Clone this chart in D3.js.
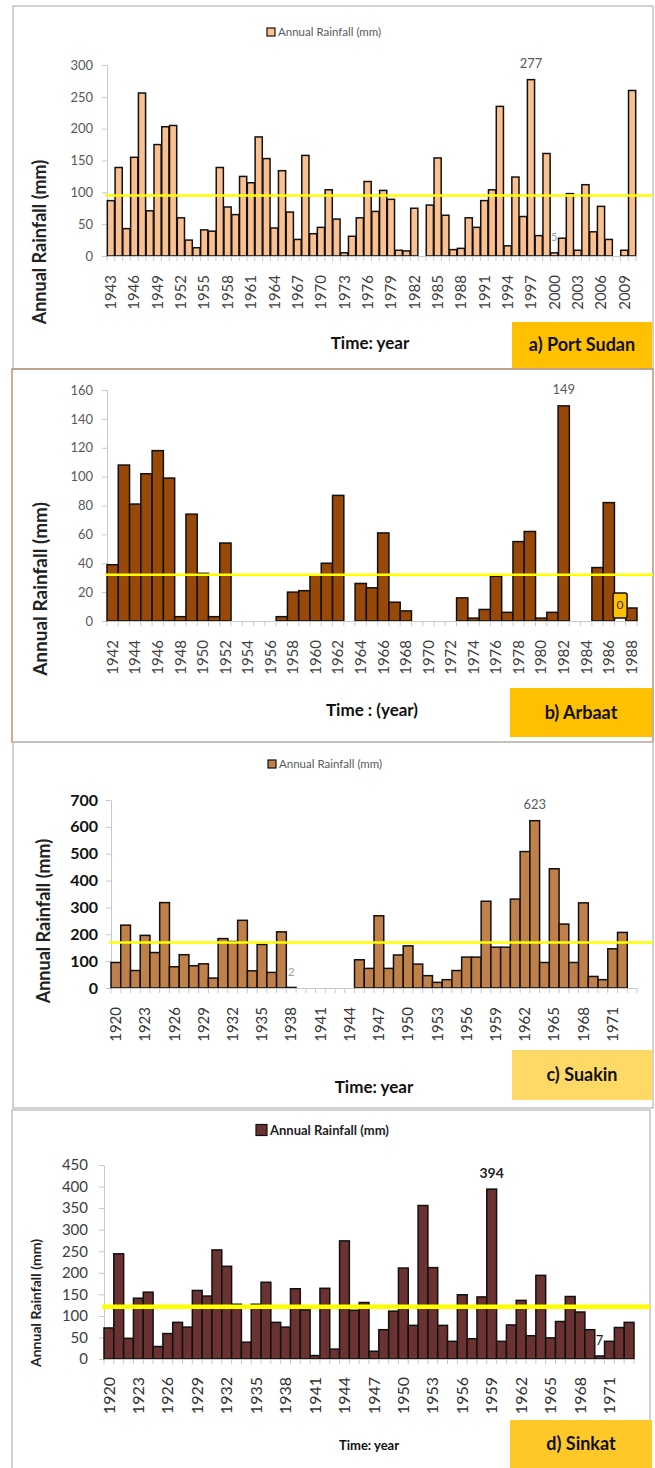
<!DOCTYPE html>
<html>
<head>
<meta charset="utf-8">
<script src="https://cdn.jsdelivr.net/npm/d3@7"></script>
<style>
  body { margin: 0; background: #fff; }
  svg { display: block; font-family: Lato, "Open Sans", sans-serif; }
</style>
</head>
<body>
<div id="root"></div>
<script>
// ---- Data (annual rainfall, mm) ----
const portSudanYears = d3.range(1943, 2011);
const portSudanRain = [
  87, 139, 43, 155, 256, 71, 175, 203, 205, 60,
  25, 13, 41, 39, 139, 77, 65, 125, 115, 187,
  153, 44, 134, 69, 26, 158, 35, 45, 104, 58,
  5, 31, 60, 117, 70, 103, 89, 9, 8, 75,
  0, 80, 154, 64, 10, 12, 60, 45, 87, 104,
  235, 16, 124, 62, 277, 32, 161, 5, 28, 98,
  9, 112, 38, 78, 26, 0, 9, 260
];
const portSudanMean = 95;

const arbaatYears = d3.range(1942, 1989);
const arbaatRain = [
  39, 108, 81, 102, 118, 99, 3, 74, 33, 3,
  54, 0, 0, 0, 0, 3, 20, 21, 32, 40,
  87, 0, 26, 23, 61, 13, 7, 0, 0, 0,
  0, 16, 2, 8, 31, 6, 55, 62, 2, 6,
  149, 0, 0, 37, 82, 0, 9
];
const arbaatMean = 32;

const suakinYears = d3.range(1920, 1974);
const suakinRain = [
  95, 234, 65, 196, 132, 318, 79, 124, 83, 90,
  37, 184, 173, 252, 64, 162, 58, 209, 2, 0,
  0, 0, 0, 0, 0, 105, 73, 269, 73, 123,
  157, 89, 46, 21, 31, 65, 115, 115, 323, 152,
  152, 331, 508, 623, 95, 444, 238, 95, 317, 43,
  31, 146, 207, 0
];
const suakinMean = 169;

const sinkatYears = d3.range(1920, 1974);
const sinkatRain = [
  72, 244, 48, 141, 155, 29, 59, 85, 74, 159,
  146, 253, 215, 127, 39, 127, 178, 85, 74, 163,
  114, 8, 164, 23, 274, 113, 131, 18, 68, 111,
  211, 78, 356, 212, 78, 41, 149, 47, 144, 394,
  41, 79, 136, 54, 194, 49, 87, 145, 109, 68,
  7, 41, 73, 85
];
const sinkatMean = 121;

const legendLabel = "Annual Rainfall (mm)";
const yTitle = "Annual Rainfall (mm)";

// ---- Drawing ----
const width = 655;
const height = 1468;

const svg = d3.select("#root")
  .append("svg")
    .attr("width", width)
    .attr("height", height)
    .attr("viewBox", `0 0 ${width} ${height}`);

function drawPanel(p) {
  const g = svg.append("g");

  // marco del panel
  g.append("rect")
    .attr("x", p.frame[0]).attr("y", p.frame[1])
    .attr("width", p.frame[2]).attr("height", p.frame[3])
    .attr("fill", "none")
    .attr("stroke", p.frameColor)
    .attr("stroke-width", 1.5);

  const x = d3.scaleBand()
    .domain(p.years)
    .range([p.left, p.right])
    .paddingInner(p.pad)
    .paddingOuter(p.pad / 2);

  const y = d3.scaleLinear()
    .domain([0, p.yMax])
    .range([p.bottom, p.top]);

  // eje Y
  const yAxis = g.append("g")
    .attr("transform", `translate(${p.left},0)`)
    .call(d3.axisLeft(y)
      .tickValues(d3.range(0, p.yMax + 1, p.yStep))
      .tickSizeInner(5).tickSizeOuter(0)
      .tickPadding(p.yPad));
  yAxis.select(".domain").attr("stroke", "#c8c8c8");
  yAxis.selectAll(".tick line").attr("stroke", "#c8c8c8");
  yAxis.selectAll("text")
    .attr("fill", p.yTickColor)
    .style("font-size", p.yTickSize + "px")
    .style("font-weight", p.yTickWeight)
    .style("font-family", "Lato, sans-serif");

  // barras
  const data = p.years.map((yr, i) => ({ yr, v: p.values[i] }));
  g.append("g")
    .selectAll("rect")
    .data(data.filter(d => d.v > 0))
    .enter()
    .append("rect")
      .attr("x", d => x(d.yr))
      .attr("y", d => y(d.v))
      .attr("width", x.bandwidth())
      .attr("height", d => y(0) - y(d.v))
      .attr("fill", p.color)
      .attr("stroke", "#111")
      .attr("stroke-width", 1.5);

  // eje X
  const xAxis = g.append("g")
    .attr("transform", `translate(0,${p.bottom})`)
    .call(d3.axisBottom(x)
      .tickValues(p.years.filter((d, i) => i % p.every === 0))
      .tickSize(0)
      .tickPadding(0));
  xAxis.select(".domain").attr("stroke", "#c8c8c8");
  xAxis.selectAll("text")
    .attr("transform", "rotate(-90)")
    .attr("x", -p.xGap)
    .attr("y", 0)
    .attr("dy", "0.35em")
    .attr("text-anchor", "end")
    .attr("fill", p.xTickColor)
    .style("font-size", p.xTickSize + "px")
    .style("font-family", "Lato, sans-serif");

  // marcas entre categorías
  const step = x.step();
  const edges = p.years.map(yr => x(yr) - step * p.pad / 2)
    .concat([x(p.years[p.years.length - 1]) + x.bandwidth() + step * p.pad / 2]);
  xAxis.append("g")
    .selectAll("line")
    .data(edges)
    .enter()
    .append("line")
      .attr("x1", d => d).attr("x2", d => d)
      .attr("y1", 0).attr("y2", 5)
      .attr("stroke", "#c8c8c8");

  // línea de media
  g.append("line")
    .attr("x1", p.left - 2)
    .attr("x2", p.meanEnd)
    .attr("y1", y(p.mean))
    .attr("y2", y(p.mean))
    .attr("stroke", "#ffff00")
    .attr("stroke-width", p.meanWidth);

  // etiquetas de datos
  p.notes.forEach(n => {
    const i = p.years.indexOf(n.year);
    const cx = x(n.year) + x.bandwidth() / 2;
    const cy = y(p.values[i]) - 16;
    if (n.box) {
      g.append("rect")
        .attr("x", cx - 7).attr("y", cy - 12)
        .attr("width", 14).attr("height", 25)
        .attr("rx", 2)
        .attr("fill", "#ffc000")
        .attr("stroke", "#111")
        .attr("stroke-width", 1.5);
    }
    g.append("text")
      .attr("x", cx)
      .attr("y", cy)
      .attr("dy", "0.35em")
      .attr("text-anchor", "middle")
      .attr("fill", n.color || "#595959")
      .style("font-size", (n.size || 13) + "px")
      .style("font-weight", n.bold ? "bold" : "normal")
      .text(n.text !== undefined ? n.text : p.values[i]);
  });

  // leyenda
  if (p.legend) {
    const L = p.legend;
    g.append("rect")
      .attr("x", L.x).attr("y", L.y - L.sw / 2)
      .attr("width", L.sw).attr("height", L.sw)
      .attr("fill", p.color)
      .attr("stroke", "#111")
      .attr("stroke-width", 1.2);
    g.append("text")
      .attr("x", L.x + L.sw + 3)
      .attr("y", L.y)
      .attr("dy", "0.35em")
      .attr("fill", L.color)
      .style("font-size", L.size + "px")
      .style("font-weight", L.bold ? "bold" : "normal")
      .text(legendLabel);
  }

  // título eje Y
  g.append("text")
    .attr("transform", `translate(${p.yTitle.x},${p.yTitle.y})rotate(-90)`)
    .attr("text-anchor", "middle")
    .attr("dy", "0.35em")
    .attr("fill", "#222")
    .style("font-size", p.yTitle.size + "px")
    .style("font-weight", "bold")
    .text(yTitle);

  // título eje X
  g.append("text")
    .attr("x", p.xTitle.x)
    .attr("y", p.xTitle.y)
    .attr("dy", "0.35em")
    .attr("text-anchor", "middle")
    .attr("fill", "#111")
    .style("font-size", p.xTitle.size + "px")
    .style("font-weight", "bold")
    .text(p.xTitle.text);

  // recuadro con el nombre de la estación
  const B = p.box;
  g.append("rect")
    .attr("x", B.x).attr("y", B.y)
    .attr("width", B.w).attr("height", B.h)
    .attr("fill", B.fill);
  g.append("text")
    .attr("x", B.x + B.w / 2)
    .attr("y", B.y + B.h / 2)
    .attr("dy", "0.35em")
    .attr("text-anchor", "middle")
    .attr("fill", "#111")
    .style("font-size", "18px")
    .style("font-weight", "bold")
    .text(B.text);
}

// a) Port Sudan
drawPanel({
  years: portSudanYears, values: portSudanRain, mean: portSudanMean,
  frame: [13, 6, 640, 363], frameColor: "#c4c4c4",
  left: 107, right: 636, top: 65, bottom: 256, pad: 0.08,
  yMax: 300, yStep: 50, yPad: 9, yTickSize: 13, yTickColor: "#595959", yTickWeight: "normal",
  every: 3, xGap: 19, xTickSize: 15, xTickColor: "#404040",
  color: "#fac090", meanEnd: 653, meanWidth: 2.5,
  notes: [
    { year: 1997 },
    { year: 2000, color: "#a0a0a0", size: 11 }
  ],
  legend: { x: 267, y: 32, sw: 8, size: 11.5, color: "#595959" },
  yTitle: { x: 40, y: 242, size: 18 },
  xTitle: { x: 370, y: 343, size: 17, text: "Time: year" },
  box: { x: 512, y: 322, w: 140, h: 46, fill: "#ffc000", text: "a) Port Sudan" }
});

// b) Arbaat
drawPanel({
  years: arbaatYears, values: arbaatRain, mean: arbaatMean,
  frame: [12, 369, 641, 373], frameColor: "#b8937a",
  left: 107, right: 637, top: 390, bottom: 621, pad: 0.0,
  yMax: 160, yStep: 20, yPad: 9, yTickSize: 13, yTickColor: "#595959", yTickWeight: "normal",
  every: 2, xGap: 19, xTickSize: 15, xTickColor: "#404040",
  color: "#984807", meanEnd: 653, meanWidth: 2.5,
  notes: [
    { year: 1982 },
    { year: 1987, box: true, text: "0", color: "#333", size: 12 }
  ],
  legend: null,
  yTitle: { x: 40, y: 589, size: 19 },
  xTitle: { x: 372, y: 710, size: 17, text: "Time : (year)" },
  box: { x: 510, y: 688, w: 142, h: 49, fill: "#ffc000", text: "b) Arbaat" }
});

// c) Suakin
drawPanel({
  years: suakinYears, values: suakinRain, mean: suakinMean,
  frame: [13, 742, 640, 366], frameColor: "#c4c4c4",
  left: 111, right: 637, top: 800, bottom: 988, pad: 0.0,
  yMax: 700, yStep: 100, yPad: 8, yTickSize: 16, yTickColor: "#111", yTickWeight: "bold",
  every: 3, xGap: 19, xTickSize: 15, xTickColor: "#333",
  color: "#c0804a", meanEnd: 653, meanWidth: 2.5,
  notes: [
    { year: 1963 },
    { year: 1938, color: "#a0a0a0", size: 12 }
  ],
  legend: { x: 268, y: 764, sw: 8, size: 11.5, color: "#595959" },
  yTitle: { x: 44, y: 921, size: 18 },
  xTitle: { x: 374, y: 1087, size: 17, text: "Time: year" },
  box: { x: 512, y: 1050, w: 140, h: 50, fill: "#ffd966", text: "c) Suakin" }
});

// d) Sinkat
drawPanel({
  years: sinkatYears, values: sinkatRain, mean: sinkatMean,
  frame: [12, 1110, 638, 370], frameColor: "#c4c4c4",
  left: 104, right: 634, top: 1165, bottom: 1359, pad: 0.0,
  yMax: 450, yStep: 50, yPad: 11, yTickSize: 15, yTickColor: "#404040", yTickWeight: "normal",
  every: 3, xGap: 18, xTickSize: 16, xTickColor: "#333",
  color: "#6b3232", meanEnd: 650, meanWidth: 4.5,
  notes: [
    { year: 1959, bold: true, color: "#222", size: 14 },
    { year: 1970, color: "#222", size: 13 }
  ],
  legend: { x: 256, y: 1130, sw: 11, size: 13, color: "#222", bold: true },
  yTitle: { x: 36, y: 1303, size: 14 },
  xTitle: { x: 369, y: 1445, size: 13, text: "Time: year" },
  box: { x: 510, y: 1420, w: 142, h: 48, fill: "#ffc829", text: "d) Sinkat" }
});
</script>
</body>
</html>
